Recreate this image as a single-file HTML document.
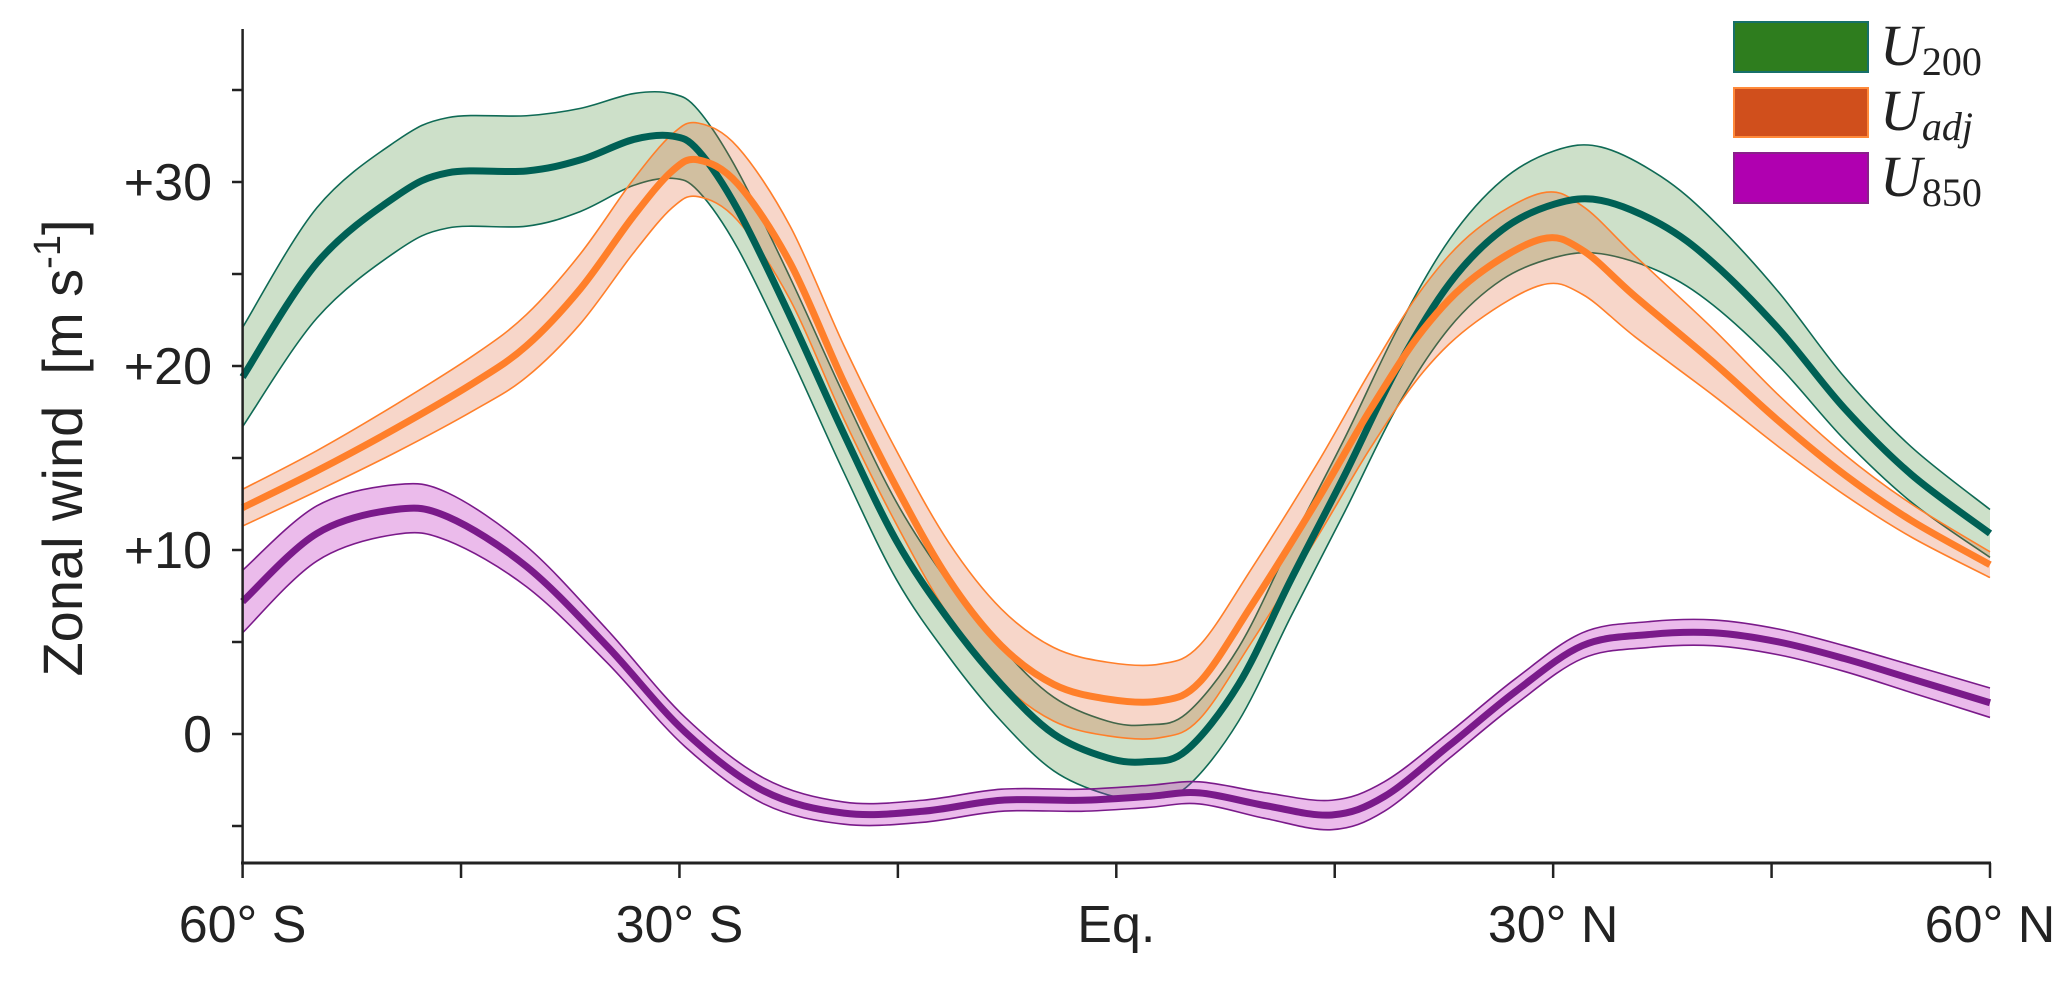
<!DOCTYPE html>
<html><head><meta charset="utf-8"><style>
body{margin:0;background:#fff}
svg{display:block}
text{font-family:"Liberation Sans",sans-serif;fill:#222}
</style></head><body>
<svg id="chart" width="2067" height="982" viewBox="0 0 2067 982">
<g id="bands"></g>
<g id="lines"></g>
<g id="axes"></g>
<text transform="translate(82,448) rotate(-90)" text-anchor="middle" font-size="56" xml:space="preserve">Zonal wind  [m s<tspan dy="-22" font-size="38">-1</tspan><tspan dy="22">]</tspan></text>
<g>
<g><rect x="1734" y="22" width="134" height="50" fill="#2e7d1e" stroke="#17706a" stroke-width="2"/><text x="1880" y="65" font-size="58" style="font-family:'Liberation Serif',serif;font-style:italic">U<tspan dy="10" font-size="40" font-style="normal">200</tspan></text></g>
<g><rect x="1734" y="88" width="134" height="49" fill="#d04f1c" stroke="#ff8a3a" stroke-width="2"/><text x="1880" y="130" font-size="58" style="font-family:'Liberation Serif',serif;font-style:italic">U<tspan dy="10" font-size="40">adj</tspan></text></g>
<g><rect x="1734" y="153" width="134" height="50" fill="#b000b0" stroke="#8a208a" stroke-width="2"/><text x="1880" y="196" font-size="58" style="font-family:'Liberation Serif',serif;font-style:italic">U<tspan dy="10" font-size="40" font-style="normal">850</tspan></text></g>
</g>
</svg>
<script>
const xTickLats=[-60,-30,0,30,60];
const xTickLabels=["60° S","30° S","Eq.","30° N","60° N"];
const yTickVals=[0,10,20,30];
const yTickLabels=["0","+10","+20","+30"];
const latU200=[-60,-54.9,-49.5,-45.9,-40.5,-36.8,-33.2,-30.5,-28.7,-26,-22.4,-18.7,-15.1,-11.5,-7.9,-4.3,-0.6,2.1,4.8,8.4,12,15.7,19.3,22.9,26.5,30.1,33.3,37.4,41,45.5,50,54.6,60];
const meanU200=[19.4,25.6,29.2,30.5,30.6,31.2,32.3,32.5,31.7,28.5,22.7,16.3,10.5,6.2,2.7,0,-1.3,-1.5,-0.9,2.7,8.4,14.1,19.9,24.5,27.4,28.8,29.0,27.7,25.6,22,17.7,14.1,10.9];
const hwU200=[2.7,3,3,3,3,2.8,2.5,2.3,2.2,2.1,2.1,2.1,2.1,2,2,2,2,2,2,2,2,2,2.1,2.4,2.7,2.9,2.9,2.6,2.3,2,1.7,1.5,1.3];
const latUadj=[-60,-54.9,-49.5,-44.1,-40.5,-36.8,-33.2,-30.5,-28.7,-26,-22.4,-18.7,-15.1,-11.5,-7.9,-4.3,-0.6,3,5.7,9.3,13.8,17.5,21.1,24.7,29.2,32,35.6,41,45.5,50,54.6,60];
const meanUadj=[12.3,14.3,16.6,19.1,21.1,24.2,28.1,30.6,31.2,29.9,25.6,19.1,13.4,8.4,4.8,2.7,1.9,1.8,2.8,7,12.7,17.7,22,24.9,26.9,26.3,23.8,20.2,17,14.1,11.6,9.2];
const hwUadj=[1,1.1,1.3,1.5,1.7,1.9,2,2,2,2,2,2,2,2,2,2,2,2,2,2,2,2.1,2.3,2.5,2.5,2.4,2.2,1.8,1.4,1.1,0.9,0.7];
const latU850=[-60,-54.9,-49.5,-45.9,-40.5,-35,-29.6,-24.2,-18.7,-13.3,-7.9,-2.4,2.1,5.7,10.3,14.8,18.4,22.9,27.4,32,36.5,41,45.5,50,54.6,60];
const meanU850=[7.2,10.9,12.2,11.8,9.1,4.8,0.1,-3.1,-4.3,-4.2,-3.6,-3.6,-3.4,-3.2,-3.9,-4.4,-3.4,-0.6,2.3,4.8,5.4,5.5,5,4.1,3,1.7];
const hwU850=[1.7,1.5,1.35,1.3,1.1,0.9,0.8,0.7,0.6,0.6,0.6,0.6,0.6,0.6,0.7,0.8,0.8,0.7,0.7,0.7,0.7,0.7,0.7,0.7,0.75,0.8];

const X=l=>242.6+(l+60)*(1990-242.6)/120;
const Y=v=>734-v*18.4;
const NS="http://www.w3.org/2000/svg";
function mk(tag,attrs,parent){const e=document.createElementNS(NS,tag);for(const k in attrs)e.setAttribute(k,attrs[k]);parent.appendChild(e);return e;}
function smooth(pts){let d="M"+pts[0][0]+","+pts[0][1];for(let i=0;i<pts.length-1;i++){const p0=pts[Math.max(0,i-1)],p1=pts[i],p2=pts[i+1],p3=pts[Math.min(pts.length-1,i+2)];const c1=[p1[0]+(p2[0]-p0[0])/6,p1[1]+(p2[1]-p0[1])/6],c2=[p2[0]-(p3[0]-p1[0])/6,p2[1]-(p3[1]-p1[1])/6];d+=" C"+c1[0]+","+c1[1]+" "+c2[0]+","+c2[1]+" "+p2[0]+","+p2[1];}return d;}
const bands=document.getElementById('bands'),lines=document.getElementById('lines'),axes=document.getElementById('axes');
const series=[
 {n:"u200",lat:latU200,m:meanU200,h:hwU200,fill:"rgba(46,125,30,0.24)",edge:"#0f6a55",line:"#006055"},
 {n:"uadj",lat:latUadj,m:meanUadj,h:hwUadj,fill:"rgba(225,90,40,0.25)",edge:"#ff7f2a",line:"#ff7f2a"},
 {n:"u850",lat:latU850,m:meanU850,h:hwU850,fill:"rgba(190,30,190,0.3)",edge:"#7a1a8a",line:"#7a1a8a"}];
series.forEach(s=>{
 const up=s.lat.map((l,i)=>[X(l),Y(s.m[i]+s.h[i])]);
 const lo=s.lat.map((l,i)=>[X(l),Y(s.m[i]-s.h[i])]);
 const loR=lo.slice().reverse();
 const dl=smooth(loR).replace(/^M/,"L");
 const b=mk('path',{d:smooth(up)+" "+dl+" Z",fill:s.fill,stroke:"none"},bands);
 
 
 const e1=mk('path',{d:smooth(up),fill:"none",stroke:s.edge,"stroke-width":1.6},bands);
 
 
 const e2=mk('path',{d:smooth(lo),fill:"none",stroke:s.edge,"stroke-width":1.6},bands);
 
 
});
series.forEach(s=>{
 const p=mk('path',{d:smooth(s.lat.map((l,i)=>[X(l),Y(s.m[i])])),fill:"none",stroke:s.line,"stroke-width":7,"stroke-linejoin":"round"},lines);
 
 
});
const ya=mk('line',{x1:242.6,y1:29,x2:242.6,y2:864,stroke:"#222","stroke-width":2.5},axes);


const xa=mk('line',{x1:241,y1:863,x2:1991,y2:863,stroke:"#222","stroke-width":3},axes);


for(let v=-5;v<=35;v+=5){const t=mk('line',{x1:242.6,x2:232,y1:Y(v),y2:Y(v),stroke:"#222","stroke-width":2.5},axes);
 
 }
yTickVals.forEach((v,i)=>{const t=mk('text',{x:212,y:Y(v)+18,"text-anchor":"end","font-size":52},axes);t.textContent=yTickLabels[i];
 
 });
for(let l=-60;l<=60;l+=15){const t=mk('line',{x1:X(l),x2:X(l),y1:863,y2:878,stroke:"#222","stroke-width":2.5},axes);
 
 }
xTickLats.forEach((l,i)=>{const t=mk('text',{x:X(l),y:942,"text-anchor":"middle","font-size":52},axes);t.textContent=xTickLabels[i];
 
 });
</script>
</body></html>
